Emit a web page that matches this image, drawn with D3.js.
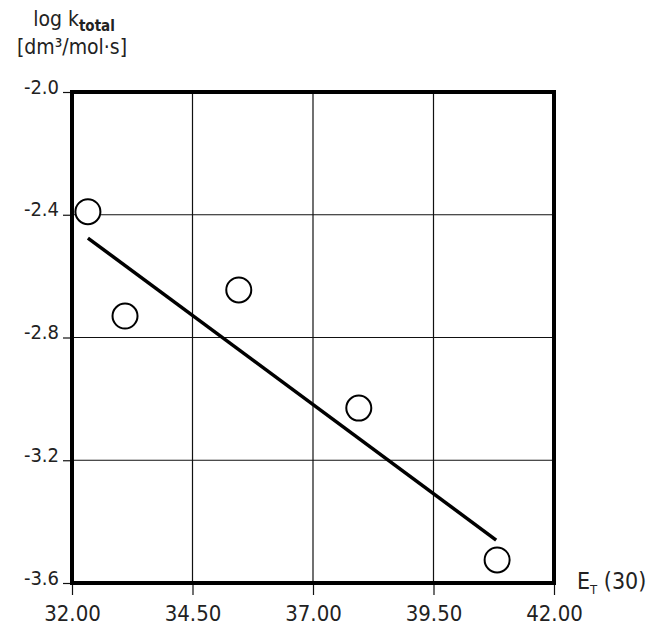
<!DOCTYPE html>
<html>
<head>
<meta charset="utf-8">
<script src="https://cdn.jsdelivr.net/npm/d3@7"></script>
<style>
body { margin: 0; background: #fff; }
text { font-family: "DejaVu Sans Condensed", "DejaVu Sans", sans-serif; fill: #222; }
</style>
</head>
<body>
<div id="chart"></div>
<script>
// data
let ptX = [32.33, 33.10, 35.46, 37.95, 40.82];
let ptY = [-2.39, -2.73, -2.645, -3.03, -3.525];
let fitX = [32.33, 40.80];
let fitY = [-2.476, -3.46];
let xTicks = [32, 34.5, 37, 39.5, 42];
let yTicks = [-2.0, -2.4, -2.8, -3.2, -3.6];

let width = 661, height = 629;
let margins = { top: 92, right: 107, bottom: 46, left: 72 };

let svg = d3.select("#chart").append("svg")
	.attr("width", width)
	.attr("height", height);

let x = d3.scaleLinear().domain([32, 42]).range([margins.left, width - margins.right]);
let y = d3.scaleLinear().domain([-3.6, -2.0]).range([height - margins.bottom, margins.top]);

// grid
svg.append("g").selectAll("line.gx")
	.data(xTicks.slice(1, -1))
	.enter().append("line")
	.attr("x1", d => x(d)).attr("x2", d => x(d))
	.attr("y1", y(-2.0)).attr("y2", y(-3.6))
	.attr("stroke", "#111").attr("stroke-width", 1.2);
svg.append("g").selectAll("line.gy")
	.data(yTicks.slice(1, -1))
	.enter().append("line")
	.attr("x1", x(32)).attr("x2", x(42))
	.attr("y1", d => y(d)).attr("y2", d => y(d))
	.attr("stroke", "#111").attr("stroke-width", 1.2);

// axes
let xAxis = svg.append("g")
	.attr("transform", "translate(0," + y(-3.6) + ")")
	.call(d3.axisBottom(x).tickValues(xTicks).tickFormat(d => d.toFixed(2)).tickSize(12).tickPadding(10));
let yAxis = svg.append("g")
	.attr("transform", "translate(" + x(32) + ",0)")
	.call(d3.axisLeft(y).tickValues(yTicks).tickFormat(d => d.toFixed(1)).tickSize(9).tickPadding(4));
[xAxis, yAxis].forEach(function (a) {
	a.select(".domain").remove();
	a.selectAll("line").attr("stroke", "#111").attr("stroke-width", 1.2);
	a.selectAll("text").attr("fill", "#222");
});
xAxis.selectAll("text").style("font-size", "22px");
yAxis.selectAll("text").style("font-size", "20px").attr("dy", "0.05em");

// plot frame
svg.append("rect")
	.attr("x", x(32)).attr("y", y(-2.0))
	.attr("width", x(42) - x(32)).attr("height", y(-3.6) - y(-2.0))
	.attr("fill", "none").attr("stroke", "#000").attr("stroke-width", 4);

// fit line
svg.append("line")
	.attr("x1", x(fitX[0])).attr("y1", y(fitY[0]))
	.attr("x2", x(fitX[1])).attr("y2", y(fitY[1]))
	.attr("stroke", "#000").attr("stroke-width", 3.5);

// points
svg.append("g").selectAll("circle")
	.data(ptX.map((d, i) => [d, ptY[i]]))
	.enter().append("circle")
	.attr("cx", d => x(d[0])).attr("cy", d => y(d[1]))
	.attr("r", 12.5)
	.attr("fill", "#fff").attr("stroke", "#000").attr("stroke-width", 2);

// axis titles
let yt = svg.append("text").attr("x", 74).attr("y", 26).attr("text-anchor", "middle").style("font-size", "21px");
yt.append("tspan").text("log k");
yt.append("tspan").attr("dy", 5).style("font-size", "15px").style("font-weight", "bold").text("total");
svg.append("text").attr("x", 72).attr("y", 54).attr("text-anchor", "middle").style("font-size", "21px")
	.text("[dm³/mol·s]");

let xt = svg.append("text").attr("x", 577).attr("y", 589).style("font-size", "23px");
xt.append("tspan").text("E");
xt.append("tspan").attr("dy", 5).style("font-size", "13px").text("T");
xt.append("tspan").attr("dy", -5).text(" (30)");
</script>
</body>
</html>
